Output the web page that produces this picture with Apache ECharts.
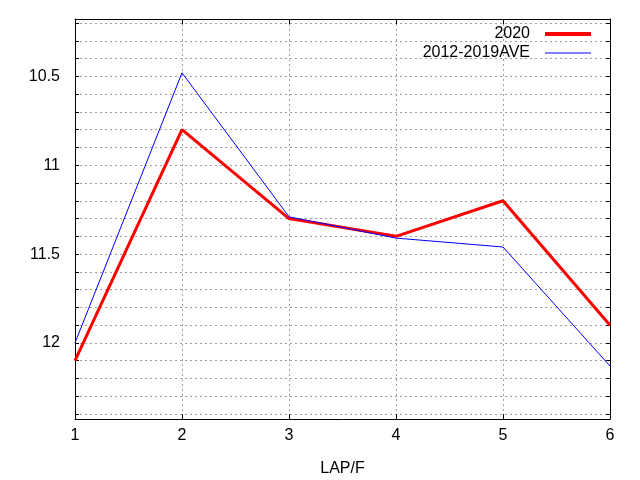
<!DOCTYPE html>
<html>
<head>
<meta charset="utf-8">
<script src="https://cdn.jsdelivr.net/npm/echarts@6/dist/echarts.min.js"></script>
<style>html,body{margin:0;padding:0;background:#fff}#c{width:640px;height:480px}</style>
</head>
<body>
<div id="c"></div>
<script>
const laps = [1, 2, 3, 4, 5, 6];
const s2020 = [12.10, 10.80, 11.30, 11.40, 11.20, 11.90];
const sAve = [12.00, 10.48, 11.29, 11.41, 11.46, 12.13];
const seriesNames = ['2020', '2012-2019AVE'];
const xName = 'LAP/F';

const yMin = 10.177, yMax = 12.428;
const font = 'Liberation Sans, Arial, sans-serif';
const fs = 16;

const chart = echarts.init(document.getElementById('c'), null, {renderer: 'canvas'});
const gridLine = {show: true, lineStyle: {color: '#a0a0a0', type: [2, 3], width: 1}};
const frame = {show: true, onZero: false, lineStyle: {color: '#000', width: 1}};
const yTickFmt = v => {
  const d = v * 2;
  return Math.abs(d - Math.round(d)) < 1e-6 ? String(+v.toFixed(1)) : '';
};
chart.setOption({
  animation: false,
  backgroundColor: '#fff',
  textStyle: {fontFamily: font},
  grid: {left: 75, right: 30, top: 19, bottom: 61, containLabel: false, outerBoundsMode: 'none'},
  legend: {
    orient: 'vertical', right: 42, top: 21, align: 'right',
    itemWidth: 46, itemHeight: 10, itemGap: 3,
    itemStyle: {color: 'rgba(0,0,0,0)', borderWidth: 0, opacity: 0},
    textStyle: {fontSize: fs, color: '#000', fontFamily: font, padding: [0, 10, 0, 0]},
    data: [
      {name: seriesNames[0], lineStyle: {color: '#ff0000', width: 4}},
      {name: seriesNames[1], lineStyle: {color: '#0000ff', width: 1}}
    ]
  },
  xAxis: [{
    type: 'value', min: 1, max: 6, interval: 1, position: 'bottom',
    name: xName, nameLocation: 'middle', nameGap: 42,
    nameTextStyle: {fontSize: fs, color: '#000', fontFamily: font},
    axisLine: frame,
    axisTick: {show: true, inside: true, length: 5, lineStyle: {color: '#000'}},
    axisLabel: {fontSize: fs, color: '#000', margin: 9, fontFamily: font},
    splitLine: gridLine
  }, {
    type: 'value', min: 1, max: 6, interval: 1, position: 'top',
    axisLine: frame,
    axisTick: {show: true, inside: true, length: 5, lineStyle: {color: '#000'}},
    axisLabel: {show: false}, splitLine: {show: false}
  }],
  yAxis: [{
    type: 'value', inverse: true, min: yMin, max: yMax, position: 'left',
    splitNumber: 22, minInterval: 0.1, maxInterval: 0.1,
    axisLine: frame,
    axisTick: {show: true, inside: true, length: 4, lineStyle: {color: '#000'}},
    axisLabel: {fontSize: fs, color: '#000', margin: 15, formatter: yTickFmt, fontFamily: font,
                showMinLabel: false, showMaxLabel: false},
    splitLine: gridLine
  }, {
    type: 'value', inverse: true, min: yMin, max: yMax, position: 'right',
    splitNumber: 22, minInterval: 0.1, maxInterval: 0.1,
    axisLine: frame,
    axisTick: {show: true, inside: true, length: 4, lineStyle: {color: '#000'}},
    axisLabel: {show: false}, splitLine: {show: false}
  }],
  series: [{
    name: seriesNames[0], type: 'line', symbol: 'none',
    data: laps.map((x, i) => [x, s2020[i]]),
    lineStyle: {color: '#ff0000', width: 3}, itemStyle: {color: '#ff0000'}, z: 3
  }, {
    name: seriesNames[1], type: 'line', symbol: 'none',
    data: laps.map((x, i) => [x, sAve[i]]),
    lineStyle: {color: '#0000ff', width: 1}, itemStyle: {color: '#0000ff'}, z: 4
  }]
});
</script>
</body>
</html>
